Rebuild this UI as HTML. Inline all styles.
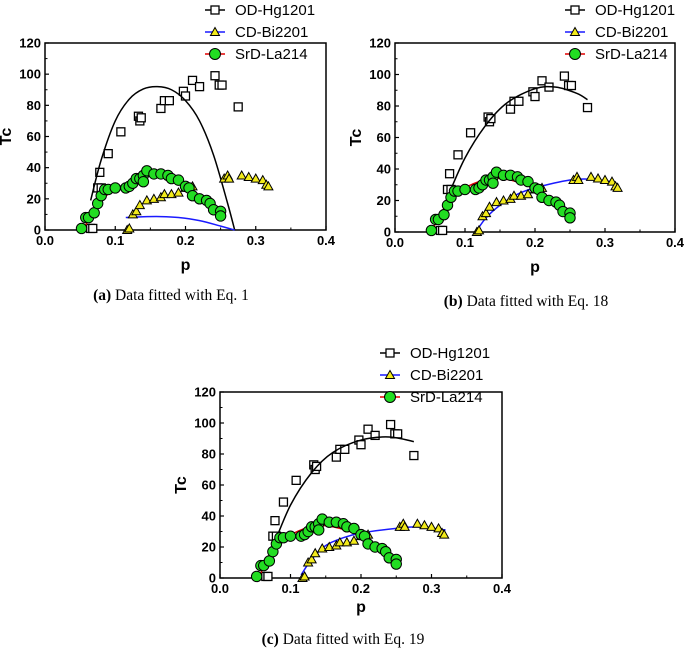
<!DOCTYPE html>
<html><head><meta charset="utf-8"><style>
body{margin:0;background:#fff;}
svg{display:block;font-family:"Liberation Sans",Arial,sans-serif;}
.tick{font-size:13px;font-weight:bold;}
.cap{font-family:"Liberation Serif",serif;font-size:15.5px;}
</style></head><body>
<svg id="fig" width="685" height="649" viewBox="0 0 685 649"></svg>
<script>
const hgP=[0.065,0.068,0.075,0.08,0.078,0.09,0.108,0.133,0.135,0.137,0.165,0.17,0.177,0.197,0.2,0.21,0.22,0.242,0.248,0.252,0.275];
const hgT=[1,1,27,27,37,49,63,73,70,72,78,83,83,89,86,96,92,99,93,93,79];
const biP=[0.117,0.12,0.125,0.13,0.135,0.145,0.155,0.165,0.17,0.18,0.19,0.2,0.21,0.255,0.26,0.262,0.28,0.29,0.3,0.31,0.315,0.318];
const biT=[0,1,10,12,16,19,20,21,23,23,24,27,28,33,35,33,35,34,33,32,29,28];
const laP=[0.052,0.058,0.062,0.07,0.075,0.08,0.085,0.09,0.1,0.115,0.12,0.125,0.13,0.135,0.14,0.145,0.14,0.155,0.165,0.175,0.18,0.19,0.2,0.205,0.21,0.22,0.23,0.235,0.24,0.25,0.25];
const laT=[1,8,8,11,17,22,26,26,27,27,28,30,33,33,35,38,31,36,36,35,33,32,28,27,22,20,19,17,13,12,9];
const fitA_hgP=[0.065,0.08,0.1,0.12,0.14,0.16,0.18,0.2,0.22,0.24,0.26,0.27];
const fitA_hgT=[19,45,70,84,90.5,92,90,83,70,48,17,0];
const fitA_biP=[0.115,0.14,0.165,0.19,0.22,0.25,0.27];
const fitA_biT=[8,8.5,8.6,8,6,2.5,0];
const fitA_laP=[0.055,0.07,0.085,0.1,0.13,0.16,0.19,0.22,0.25];
const fitA_laT=[1,12,21,26,33,35,31,22,12];
const fitB_hgP=[0.075,0.1,0.13,0.16,0.2,0.23,0.26,0.275];
const fitB_hgT=[22,47,68,82,91,92,88,84];
const fitB_biP=[0.117,0.13,0.15,0.175,0.2,0.25,0.28,0.31];
const fitB_biT=[1,9,17,24,28,33,33.5,32];
const fitB_laP=[0.055,0.07,0.09,0.12,0.15,0.18,0.21,0.23,0.25];
const fitB_laT=[3,15,25,32,34,31,25,19,10];
const fitC_hgP=[0.075,0.1,0.13,0.16,0.2,0.24,0.275];
const fitC_hgT=[20,47,68,81,89,91,88];
const fitC_biP=[0.115,0.13,0.15,0.175,0.2,0.25,0.28,0.32];
const fitC_biT=[2,12,21,26,29,32,33,31];
const fitC_laP=[0.057,0.07,0.09,0.12,0.14,0.17,0.2,0.23,0.25];
const fitC_laT=[2,15,25,32,34,32,27,19,13];
const xTicks=[0,0.1,0.2,0.3,0.4];
const xTickLabels=["0.0","0.1","0.2","0.3","0.4"];
const yTicks=[0,20,40,60,80,100,120];

const NS="http://www.w3.org/2000/svg";
const svg=document.getElementById('fig');
function mk(tag,attrs,parent){const e=document.createElementNS(NS,tag);for(const k in attrs)e.setAttribute(k,attrs[k]);(parent||svg).appendChild(e);return e;}
function smoothPath(xs,ys){
  let d="M"+xs[0]+","+ys[0];
  for(let i=0;i<xs.length-1;i++){
    const x0=xs[Math.max(i-1,0)],y0=ys[Math.max(i-1,0)],x1=xs[i],y1=ys[i],x2=xs[i+1],y2=ys[i+1],x3=xs[Math.min(i+2,xs.length-1)],y3=ys[Math.min(i+2,ys.length-1)];
    d+=" C"+(x1+(x2-x0)/6)+","+(y1+(y2-y0)/6)+" "+(x2-(x3-x1)/6)+","+(y2-(y3-y1)/6)+" "+x2+","+y2;
  }
  return d;
}
function panel(id,L,R,T,B,fits,leg,cap,capX,capY,capBold,capRest,tcX,pY){
  const g=mk('g',{});
  
  
  const sx=p=>L+(R-L)*p/0.4, sy=t=>B-(B-T)*t/120;
  const box=mk('rect',{x:L,y:T,width:R-L,height:B-T,fill:'none',stroke:'#000','stroke-width':1.5},g);
  
  
  xTicks.forEach((v,i)=>{
    mk('line',{x1:sx(v),x2:sx(v),y1:B,y2:B-4,stroke:'#000','stroke-width':1.2},g);
    if(i<4)mk('line',{x1:sx(v+0.05),x2:sx(v+0.05),y1:B,y2:B-2.5,stroke:'#000','stroke-width':1},g);
    const t=mk('text',{x:sx(v),y:B+15,'text-anchor':'middle',class:'tick'},g);t.textContent=xTickLabels[i];
    
    
  });
  yTicks.forEach(v=>{
    mk('line',{x1:L,x2:L+4,y1:sy(v),y2:sy(v),stroke:'#000','stroke-width':1.2},g);
    if(v<120)mk('line',{x1:L,x2:L+2.5,y1:sy(v+10),y2:sy(v+10),stroke:'#000','stroke-width':1},g);
    const t=mk('text',{x:L-4,y:sy(v)+4.5,'text-anchor':'end',class:'tick'},g);t.textContent=v;
    
    
  });
  const yl=mk('text',{x:tcX,y:(T+B)/2,'text-anchor':'middle','font-size':16,'font-weight':'bold',transform:'rotate(-90 '+tcX+' '+((T+B)/2)+')'},g);yl.textContent='Tc';
  
  
  const xl=mk('text',{x:(L+R)/2,y:pY,'text-anchor':'middle','font-size':16,'font-weight':'bold'},g);xl.textContent='p';
  
  
  hgP.forEach((p,i)=>{const r=mk('rect',{x:sx(p)-4,y:sy(hgT[i])-4,width:8,height:8,fill:'#fff',stroke:'#000','stroke-width':1.3},g);
    
    });
  const cols=['#000','#1a1aff','#e00000'];
  const curveNames=['hg1201-fit','bi2201-fit','la214-fit'];
  fits.forEach((f,k)=>{
    const pth=mk('path',{d:smoothPath(f[0].map(sx),f[1].map(sy)),fill:'none',stroke:cols[k],'stroke-width':1.5},g);
    
    
  });
  biP.forEach((p,i)=>{const x=sx(p),y=sy(biT[i]);
    const t=mk('polygon',{points:(x)+','+(y-4.5)+' '+(x-4.5)+','+(y+3.5)+' '+(x+4.5)+','+(y+3.5),fill:'#f2ea1a',stroke:'#000','stroke-width':1},g);
    
    });
  laP.forEach((p,i)=>{const c=mk('circle',{cx:sx(p),cy:sy(laT[i]),r:5.2,fill:'#22dd22',stroke:'#000','stroke-width':1},g);
    
    });
  const names=['OD-Hg1201','CD-Bi2201','SrD-La214'];
  names.forEach((n,k)=>{
    const lg=mk('g',{},g);
    
    
    const y=leg[1]+k*22, x=leg[0];
    mk('line',{x1:x,x2:x+20,y1:y,y2:y,stroke:cols[k],'stroke-width':1.5},lg);
    if(k==0)mk('rect',{x:x+6,y:y-4,width:8,height:8,fill:'#fff',stroke:'#000','stroke-width':1.3},lg);
    if(k==1)mk('polygon',{points:(x+10)+','+(y-4.5)+' '+(x+5.5)+','+(y+3.5)+' '+(x+14.5)+','+(y+3.5),fill:'#f2ea1a',stroke:'#000'},lg);
    if(k==2)mk('circle',{cx:x+10,cy:y,r:5.5,fill:'#22dd22',stroke:'#000'},lg);
    const t=mk('text',{x:x+30,y:y+5,'font-size':15},lg);t.textContent=n;
  });
  const c=mk('text',{x:capX,y:capY,'text-anchor':'middle',class:'cap'},g);
  
  
  const b=mk('tspan',{'font-weight':'bold'},c);b.textContent=capBold;
  const r=mk('tspan',{},c);r.textContent=' '+capRest;
}
panel('a',45,326,43,230,[[fitA_hgP,fitA_hgT],[fitA_biP,fitA_biT],[fitA_laP,fitA_laT]],[205,10],'a',171,300,'(a)','Data fitted with Eq. 1',11,270);
panel('b',395,675,43,232,[[fitB_hgP,fitB_hgT],[fitB_biP,fitB_biT],[fitB_laP,fitB_laT]],[565,10],'b',526,306,'(b)','Data fitted with Eq. 18',361,272);
panel('c',220,502,392,578,[[fitC_hgP,fitC_hgT],[fitC_biP,fitC_biT],[fitC_laP,fitC_laT]],[380,353],'c',343,644,'(c)','Data fitted with Eq. 19',186,612);
</script>
</body></html>
